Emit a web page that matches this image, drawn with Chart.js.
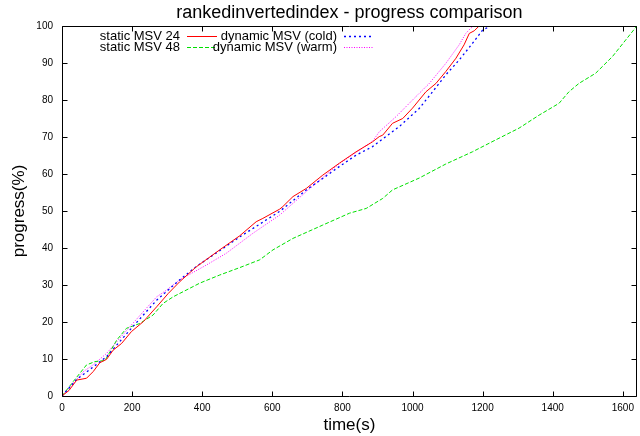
<!DOCTYPE html>
<html>
<head>
<meta charset="utf-8">
<script src="https://cdn.jsdelivr.net/npm/chart.js@4/dist/chart.umd.min.js"></script>
<style>
  body { margin: 0; background: #fff; }
  #chart { display: block; }
</style>
</head>
<body>
<canvas id="chart" width="640" height="436"></canvas>
<script>
const titleText = 'rankedinvertedindex - progress comparison';
const xTitle = 'time(s)';
const yTitle = 'progress(%)';
const xTickValues = [0, 200, 400, 600, 800, 1000, 1200, 1400, 1600];
const yTickValues = [0, 10, 20, 30, 40, 50, 60, 70, 80, 90, 100];

// static MSV 24
const static24Time = [0, 20, 42, 70, 89, 108, 127, 146, 170, 198, 232, 270, 303, 336, 383, 450, 507, 554, 573, 621, 630, 659, 697, 744, 791, 839, 886, 905, 915, 943, 972, 1000, 1038, 1067, 1095, 1124, 1147, 1162, 1176, 1190];
const static24Progress = [0, 1.5, 4.3, 4.8, 6.6, 9.0, 9.9, 12.4, 14.2, 17.4, 20.1, 24.1, 27.7, 30.9, 34.9, 39.5, 43.3, 47.1, 48.0, 50.5, 51.2, 53.9, 56.1, 59.7, 62.9, 66.0, 68.7, 70.1, 70.5, 73.7, 75.0, 77.8, 82.2, 84.5, 87.7, 91.3, 94.9, 98.0, 98.7, 100];

// static MSV 48
const static48Time = [0, 32, 70, 94, 123, 156, 184, 222, 260, 288, 317, 393, 450, 507, 564, 602, 659, 744, 820, 868, 915, 943, 1019, 1095, 1171, 1237, 1304, 1361, 1418, 1446, 1475, 1522, 1570, 1608, 1640];
const static48Progress = [0, 3.9, 8.4, 9.3, 9.6, 15.1, 18.3, 19.6, 21.9, 25.0, 26.8, 30.5, 32.7, 34.7, 36.8, 39.5, 42.6, 46.2, 49.4, 50.7, 53.4, 55.7, 58.9, 62.7, 66.0, 69.2, 72.4, 75.9, 79.1, 82.2, 84.5, 87.2, 91.7, 96.2, 100];

// dynamic MSV (cold)
const coldTime = [0, 42, 70, 127, 198, 270, 336, 383, 450, 507, 621, 697, 744, 791, 839, 886, 924, 962, 1019, 1057, 1095, 1133, 1171, 1200, 1223];
const coldProgress = [0, 4.5, 6.5, 10.6, 18.3, 25.9, 31.4, 35.0, 39.3, 43.0, 49.9, 55.7, 58.8, 62.0, 65.1, 67.4, 70.1, 72.8, 77.7, 82.2, 86.8, 90.8, 95.3, 98.9, 100];

// dynamic MSV (warm)
const warmTime = [0, 42, 61, 90, 127, 198, 270, 298, 336, 412, 469, 545, 621, 700, 791, 886, 905, 953, 1000, 1048, 1095, 1133, 1152, 1166, 1175];
const warmProgress = [0, 4.5, 6.6, 8.5, 11.5, 19.2, 26.8, 28.6, 31.4, 35.4, 38.6, 44.0, 48.9, 55.5, 62.8, 68.8, 71.4, 75.5, 80.0, 84.5, 89.9, 94.9, 98.0, 99.4, 100];

const toPoints = (xs, ys) => xs.map((x, i) => ({ x: x, y: ys[i] }));

const FONT = '"Liberation Sans", Arial, Helvetica, sans-serif';

// gnuplot style frame with inward ticks on all four sides
const framePlugin = {
  id: 'frame',
  afterDatasetsDraw(chart) {
    const { ctx, chartArea: a, scales: { x, y } } = chart;
    const L = Math.round(a.left) + 0.5, R = Math.round(a.right) - 0.5;
    const T = Math.round(a.top) + 0.5, B = Math.round(a.bottom) + 0.5;
    ctx.save();
    ctx.strokeStyle = '#000';
    ctx.lineWidth = 1;
    ctx.beginPath();
    ctx.rect(L, T, R - L, B - T);
    x.ticks.forEach(t => {
      const px = Math.round(x.getPixelForValue(t.value)) + 0.5;
      ctx.moveTo(px, B); ctx.lineTo(px, B - 5);
      ctx.moveTo(px, T); ctx.lineTo(px, T + 5);
    });
    y.ticks.forEach(t => {
      const py = Math.round(y.getPixelForValue(t.value)) + 0.5;
      ctx.moveTo(L, py); ctx.lineTo(L + 5, py);
      ctx.moveTo(R, py); ctx.lineTo(R - 5, py);
    });
    ctx.stroke();
    ctx.restore();
  }
};

// title and key drawn like the original
const keyPlugin = {
  id: 'key',
  afterDraw(chart) {
    const { ctx, chartArea: a } = chart;
    ctx.save();
    ctx.fillStyle = '#000';
    ctx.font = '18px ' + FONT;
    ctx.textAlign = 'center';
    ctx.textBaseline = 'alphabetic';
    ctx.fillText(titleText, (a.left + a.right) / 2, 18);

    ctx.font = '13px ' + FONT;
    ctx.textAlign = 'right';
    ctx.textBaseline = 'middle';
    const cols = [180, 337];
    const rows = [36, 47];
    chart.data.datasets.forEach((ds, i) => {
      const col = i % 2 === 0 ? 0 : 1;
      const row = i < 2 ? 0 : 1;
      const tx = cols[col], ty = rows[row];
      ctx.fillStyle = '#000';
      ctx.fillText(ds.label, tx, ty);
      ctx.strokeStyle = ds.borderColor;
      ctx.lineWidth = ds.borderWidth;
      ctx.setLineDash(ds.borderDash || []);
      ctx.beginPath();
      ctx.moveTo(tx + 7, ty + 0.5);
      ctx.lineTo(tx + 37, ty + 0.5);
      ctx.stroke();
    });
    ctx.restore();
  }
};

new Chart(document.getElementById('chart').getContext('2d'), {
  type: 'line',
  data: {
    datasets: [
      {
        label: 'static MSV 24',
        data: toPoints(static24Time, static24Progress),
        borderColor: '#ff0000',
        borderWidth: 1,
        borderDash: [],
      },
      {
        label: 'dynamic MSV (cold)',
        data: toPoints(coldTime, coldProgress),
        borderColor: '#0000ff',
        borderWidth: 1.3,
        borderDash: [2, 3],
      },
      {
        label: 'static MSV 48',
        data: toPoints(static48Time, static48Progress),
        borderColor: '#00e000',
        borderWidth: 1,
        borderDash: [4, 2],
      },
      {
        label: 'dynamic MSV (warm)',
        data: toPoints(warmTime, warmProgress),
        borderColor: '#ff00ff',
        borderWidth: 1,
        borderDash: [1, 1.5],
      }
    ]
  },
  options: {
    responsive: false,
    animation: false,
    parsing: false,
    elements: { point: { radius: 0 }, line: { tension: 0, fill: false } },
    layout: { padding: { top: 26, right: 2, left: 0, bottom: 0 } },
    plugins: {
      legend: { display: false },
      title: { display: false },
      tooltip: { enabled: false }
    },
    scales: {
      x: {
        type: 'linear',
        min: 0,
        max: 1640,
        grid: { display: false, drawTicks: false, tickLength: 0 },
        border: { display: false },
        afterBuildTicks(scale) { scale.ticks = xTickValues.map(v => ({ value: v })); },
        ticks: {
          padding: 6,
          autoSkip: false,
          color: '#000',
          font: { family: FONT, size: 10 },
          maxRotation: 0,
          callback: v => String(v)
        },
        title: {
          display: true,
          text: xTitle,
          color: '#000',
          font: { family: FONT, size: 17 },
          padding: { top: 2, bottom: 0 }
        },
        afterFit(scale) { scale.height = 40; }
      },
      y: {
        type: 'linear',
        min: 0,
        max: 100,
        grid: { display: false, drawTicks: false, tickLength: 0 },
        border: { display: false },
        afterBuildTicks(scale) { scale.ticks = yTickValues.map(v => ({ value: v })); },
        ticks: {
          padding: 9,
          autoSkip: false,
          color: '#000',
          font: { family: FONT, size: 10 },
          callback: v => String(v)
        },
        title: {
          display: true,
          text: yTitle,
          color: '#000',
          font: { family: FONT, size: 17 },
          padding: { top: 9, bottom: 0 }
        },
        afterFit(scale) { scale.width = 62; }
      }
    }
  },
  plugins: [framePlugin, keyPlugin]
});
</script>
</body>
</html>
